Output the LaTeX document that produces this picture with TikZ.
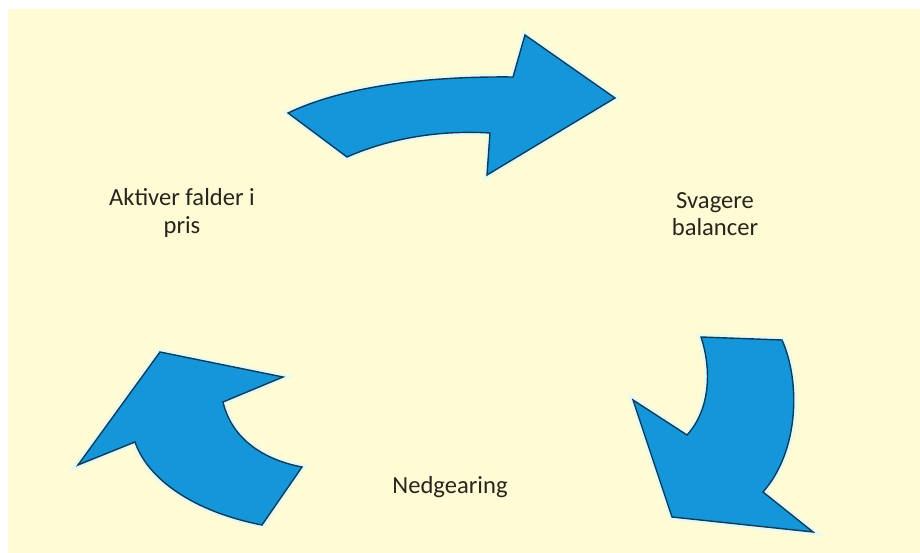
\documentclass[tikz,border=0pt]{standalone}
\usepackage{fontspec}
\setmainfont{Carlito}
\usepackage{xcolor}

\definecolor{paper}{RGB}{255,251,213}
\definecolor{arrowblue}{RGB}{22,150,218}
\definecolor{arrowedge}{RGB}{20,60,80}
\definecolor{glow}{RGB}{228,250,248}
\definecolor{textgray}{RGB}{38,38,30}

\tikzset{
  cyclearrow/.style={fill=arrowblue, draw=arrowedge, line width=0.8pt, line join=miter,
    preaction={draw=glow, line width=3.5pt}},
  steplabel/.style={align=center, text=textgray, font=\fontsize{14}{15.5}\selectfont}
}

\begin{document}
\begin{tikzpicture}[x=0.02cm,y=-0.02cm]

% background:
\useasboundingbox (0,0) rectangle (920,553);
\fill[white] (0,0) rectangle (920,553);
\fill[paper] (8,9) rectangle (920,553);

% labels:
\node[steplabel] (aktiver) at (182,213) {Aktiver falder i\\pris};
\node[steplabel] (svagere) at (715,214) {Svagere\\balancer};
\node[steplabel] (nedgearing) at (450,487) {Nedgearing};

% top arrow:
\draw[cyclearrow] (288,113) .. controls (340,88) and (420,76) .. (513,77)
  -- (525,35) -- (615,98) -- (487,175) -- (490,133)
  .. controls (440,130) and (390,138) .. (347,157) -- cycle;

% right arrow:
\draw[cyclearrow] (701,337) -- (782,340) .. controls (800,380) and (800,450) .. (763,492)
  -- (813,532) -- (672,517) -- (633,400) -- (687,435)
  .. controls (710,410) and (712,370) .. (701,337) -- cycle;

% left arrow:
\draw[cyclearrow] (160,352) -- (283,377) -- (223,402)
  .. controls (232,440) and (265,460) .. (302,467) -- (262,525)
  .. controls (195,512) and (148,480) .. (135,442) -- (78,465) -- cycle;

\end{tikzpicture}
\end{document}
